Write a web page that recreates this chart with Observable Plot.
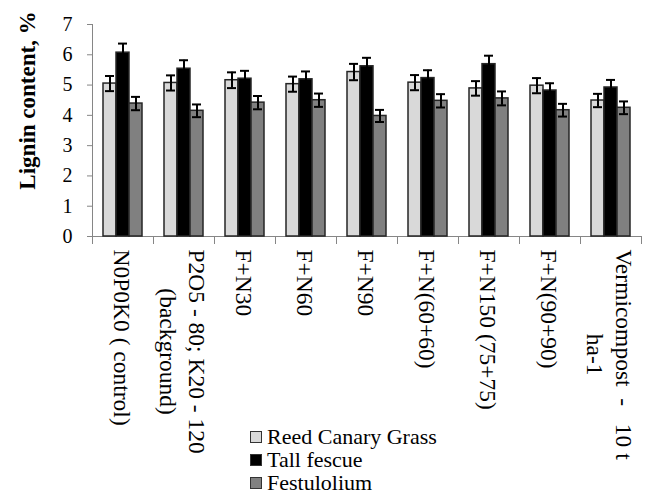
<!DOCTYPE html>
<html><head><meta charset="utf-8">
<script src="https://cdn.jsdelivr.net/npm/d3@7"></script>
<script src="https://cdn.jsdelivr.net/npm/@observablehq/plot@0.6"></script>
<style>
body{margin:0;background:#fff;font-family:"Liberation Serif","Times New Roman",serif;}
#chart{position:relative;width:651px;height:494px;overflow:hidden;}
#legend{position:absolute;left:250px;top:425px;}
.row{display:flex;align-items:center;height:23px;font-size:22px;line-height:22px;color:#000;}
.sw{width:10px;height:10px;border:1.5px solid #333;margin-right:5px;flex:none;}
</style></head><body><div id="chart"></div>
<script>
const categories = ["N0P0K0 ( control)", "P2O5 - 80; K20 - 120 (background)", "F+N30", "F+N60", "F+N90", "F+N(60+60)", "F+N150 (75+75)", "F+N(90+90)", "Vermicompost - 10 t ha-1"];
const tickLabels = ["N0P0K0 ( control)", "P2O5 - 80; K20 - 120\n(background)", "F+N30", "F+N60", "F+N90", "F+N(60+60)", "F+N150 (75+75)", "F+N(90+90)", "Vermicompost\u00a0 -\u00a0\u00a0 10 t\nha-1"];
const series = ["Reed Canary Grass", "Tall fescue", "Festulolium"];
const colors = ["#d9d9d9", "#000000", "#808080"];
const reedCanaryGrass = [5.05, 5.07, 5.16, 5.03, 5.43, 5.08, 4.89, 4.98, 4.49];
const tallFescue      = [6.07, 5.54, 5.21, 5.19, 5.62, 5.23, 5.69, 4.82, 4.92];
const festulolium     = [4.39, 4.15, 4.42, 4.50, 3.98, 4.48, 4.56, 4.17, 4.25];
const reedCanaryGrassErr = [0.25, 0.25, 0.26, 0.25, 0.27, 0.25, 0.24, 0.25, 0.22];
const tallFescueErr      = [0.30, 0.28, 0.26, 0.26, 0.28, 0.26, 0.28, 0.24, 0.25];
const festuloliumErr     = [0.22, 0.21, 0.22, 0.22, 0.20, 0.22, 0.23, 0.21, 0.21];
const yTicks = [0, 1, 2, 3, 4, 5, 6, 7];
const yLabel = "Lignin content, %";

const values = [reedCanaryGrass, tallFescue, festulolium];
const errs = [reedCanaryGrassErr, tallFescueErr, festuloliumErr];
const data = [];
categories.forEach((c, i) => series.forEach((s, j) => data.push({cat: c, series: s, value: values[j][i], err: errs[j][i]})));

const labelSize = 23.5;
const ctx = document.createElement("canvas").getContext("2d");
ctx.font = `${labelSize}px "Liberation Serif"`;
const textWidth = s => ctx.measureText(s).width;

const labelBase = {frameAnchor: "bottom", rotate: 90, lineAnchor: "middle", fontSize: labelSize, lineHeight: 1.25, fill: "black"};
const labelMarks = [];
const singleIdx = categories.map((c, i) => i).filter(i => !tickLabels[i].includes("\n"));
labelMarks.push(Plot.text(singleIdx, {...labelBase, fx: i => categories[i], text: i => tickLabels[i], textAnchor: "start", dy: 13}));
categories.forEach((c, i) => {
  const lines = tickLabels[i].split("\n");
  if (lines.length < 2) return;
  const longest = Math.max(...lines.map(textWidth));
  labelMarks.push(Plot.text([i], {...labelBase, fx: k => categories[k], text: k => tickLabels[k], textAnchor: "middle", dy: 13 + longest / 2}));
});

const axisGray = "#868686";
const plot = Plot.plot({
  width: 651, height: 425,
  marginTop: 24, marginBottom: 189, marginLeft: 90, marginRight: 8,
  style: {fontFamily: "Liberation Serif", background: "white", color: "black", overflow: "visible"},
  fx: {domain: categories, padding: 0, axis: null},
  x: {domain: series, paddingInner: 0, paddingOuter: 0.745, axis: null},
  y: {domain: [0, 7], axis: null},
  color: {domain: series, range: colors},
  marks: [
    Plot.frame({anchor: "left", facetAnchor: "left", stroke: axisGray, insetBottom: -7}),
    Plot.frame({anchor: "left", stroke: axisGray, insetTop: 212, insetBottom: -7}),
    Plot.frame({anchor: "right", facetAnchor: "right", stroke: axisGray, insetTop: 212, insetBottom: -7}),
    Plot.frame({anchor: "bottom", stroke: axisGray}),
    Plot.axisY({ticks: yTicks, tickFormat: d => String(d), tickSize: 5, tickPadding: 15, fontSize: 20, stroke: axisGray, strokeOpacity: 1, fill: "black", label: null}),
    Plot.barY(data, {fx: "cat", x: "series", y: "value", fill: "series", stroke: "#262626", strokeWidth: 1.5}),
    Plot.ruleX(data, {fx: "cat", x: "series", y1: d => d.value - d.err, y2: d => d.value + d.err, stroke: "black", strokeWidth: 2}),
    Plot.tickY(data, {fx: "cat", x: "series", y: d => d.value + d.err, stroke: "black", strokeWidth: 2, insetLeft: 2, insetRight: 2}),
    Plot.tickY(data, {fx: "cat", x: "series", y: d => d.value - d.err, stroke: "black", strokeWidth: 2, insetLeft: 2, insetRight: 2}),
    ...labelMarks,
    Plot.text([yLabel], {frameAnchor: "left", facetAnchor: "left", rotate: -90, textAnchor: "middle", dx: -65, dy: -30, fontSize: 23, fontWeight: "bold", fill: "black"})
  ]
});
const chart = document.getElementById("chart");
chart.appendChild(plot);
const legend = document.createElement("div");
legend.id = "legend";
series.forEach((s, j) => {
  const row = document.createElement("div");
  row.className = "row";
  const sw = document.createElement("span");
  sw.className = "sw";
  sw.style.background = colors[j];
  const t = document.createElement("span");
  t.textContent = s;
  row.appendChild(sw); row.appendChild(t);
  legend.appendChild(row);
});
chart.appendChild(legend);
</script></body></html>
